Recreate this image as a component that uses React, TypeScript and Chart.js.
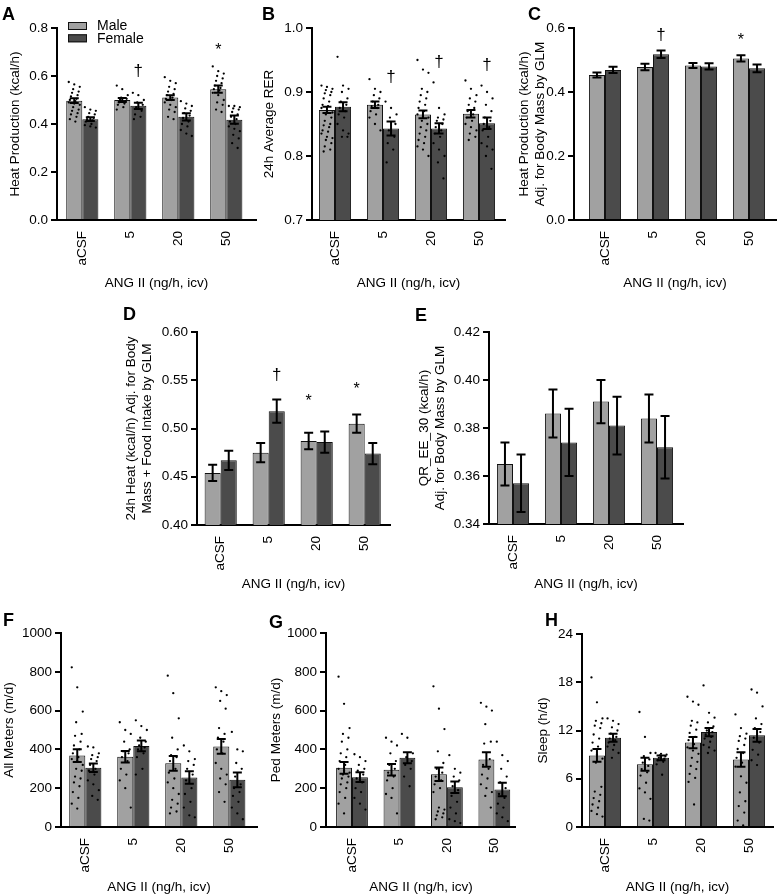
import React, { useEffect, useRef } from 'react';
import { Chart, registerables } from 'chart.js';

Chart.register(...registerables);

const FONT = '"Liberation Sans", Arial, Helvetica, sans-serif';
Chart.defaults.font.family = FONT;
Chart.defaults.color = '#000';

const categories = ['aCSF', '5', '20', '50'];
const seriesLabels = ['Male', 'Female'];
const xAxisTitle = 'ANG II (ng/h, icv)';
const MALE_COLOR = '#a1a1a1';
const FEMALE_COLOR = '#4b4b4b';
const TXT = 13.5;

// ---------- Panel A: Heat production ----------
const aMaleMean = [0.497, 0.5, 0.51, 0.545];
const aMaleSem = [0.01, 0.008, 0.01, 0.015];
const aFemaleMean = [0.42, 0.476, 0.43, 0.418];
const aFemaleSem = [0.008, 0.013, 0.015, 0.017];
const aMaleDots = [
  [0.575, 0.565, 0.555, 0.545, 0.535, 0.53, 0.52, 0.515, 0.505, 0.5, 0.495, 0.49, 0.485, 0.48, 0.47, 0.46, 0.455, 0.445, 0.44, 0.43, 0.42, 0.41],
  [0.56, 0.545, 0.52, 0.51, 0.505, 0.5, 0.495, 0.49, 0.485, 0.48, 0.47, 0.46],
  [0.595, 0.58, 0.57, 0.555, 0.545, 0.535, 0.525, 0.52, 0.51, 0.505, 0.5, 0.49, 0.48, 0.47, 0.46, 0.45, 0.43, 0.42],
  [0.64, 0.62, 0.61, 0.6, 0.59, 0.58, 0.57, 0.56, 0.55, 0.545, 0.54, 0.53, 0.52, 0.5, 0.49, 0.48, 0.46, 0.45],
];
const aFemaleDots = [
  [0.47, 0.46, 0.455, 0.445, 0.44, 0.43, 0.425, 0.42, 0.415, 0.41, 0.4, 0.395, 0.39, 0.385],
  [0.53, 0.52, 0.5, 0.49, 0.48, 0.47, 0.455, 0.44, 0.43, 0.42],
  [0.495, 0.485, 0.475, 0.465, 0.455, 0.445, 0.435, 0.425, 0.41, 0.4, 0.39, 0.375, 0.36, 0.35],
  [0.475, 0.475, 0.47, 0.465, 0.46, 0.45, 0.44, 0.43, 0.42, 0.41, 0.4, 0.39, 0.38, 0.37, 0.355, 0.34, 0.32, 0.3],
];

// ---------- Panel B: 24h average RER ----------
const bMaleMean = [0.872, 0.88, 0.865, 0.866];
const bMaleSem = [0.005, 0.005, 0.006, 0.006];
const bFemaleMean = [0.877, 0.843, 0.843, 0.851];
const bFemaleSem = [0.007, 0.011, 0.008, 0.009];
const bMaleDots = [
  [0.91, 0.908, 0.905, 0.903, 0.9, 0.898, 0.895, 0.89, 0.885, 0.88, 0.878, 0.875, 0.87, 0.868, 0.865, 0.86, 0.855, 0.85, 0.848, 0.845, 0.84, 0.838, 0.835, 0.83, 0.828, 0.825, 0.82, 0.815, 0.81, 0.807],
  [0.92, 0.905, 0.9, 0.895, 0.89, 0.885, 0.88, 0.878, 0.875, 0.87, 0.865, 0.86, 0.85, 0.84],
  [0.95, 0.935, 0.93, 0.905, 0.9, 0.895, 0.89, 0.885, 0.88, 0.875, 0.87, 0.865, 0.862, 0.86, 0.855, 0.85, 0.845, 0.84, 0.835, 0.83, 0.825, 0.82, 0.815, 0.81, 0.8],
  [0.918, 0.905, 0.895, 0.89, 0.885, 0.88, 0.875, 0.87, 0.865, 0.86, 0.855, 0.85, 0.845, 0.84, 0.835, 0.83, 0.825],
];
const bFemaleDots = [
  [0.955, 0.91, 0.905, 0.9, 0.89, 0.885, 0.88, 0.875, 0.87, 0.865, 0.86, 0.85, 0.84, 0.835, 0.83, 0.83],
  [0.885, 0.875, 0.865, 0.86, 0.85, 0.84, 0.83, 0.82, 0.81, 0.79],
  [0.915, 0.875, 0.865, 0.86, 0.857, 0.855, 0.85, 0.845, 0.84, 0.835, 0.83, 0.82, 0.81, 0.8, 0.79, 0.765],
  [0.91, 0.9, 0.89, 0.88, 0.87, 0.86, 0.855, 0.85, 0.845, 0.84, 0.83, 0.82, 0.815, 0.81, 0.8, 0.78],
];

// ---------- Panel C: Heat adj. for body mass ----------
const cMaleMean = [0.453, 0.478, 0.483, 0.505];
const cMaleSem = [0.008, 0.01, 0.008, 0.01];
const cFemaleMean = [0.469, 0.518, 0.48, 0.474];
const cFemaleSem = [0.01, 0.012, 0.01, 0.012];

// ---------- Panel D: 24h heat adj. for body mass + food intake ----------
const dMaleMean = [0.454, 0.475, 0.487, 0.505];
const dMaleSem = [0.0085, 0.01, 0.0085, 0.0095];
const dFemaleMean = [0.467, 0.518, 0.486, 0.474];
const dFemaleSem = [0.01, 0.012, 0.011, 0.011];

// ---------- Panel E: QR_EE_30 ----------
const eMaleMean = [0.365, 0.386, 0.391, 0.384];
const eMaleSem = [0.009, 0.01, 0.009, 0.01];
const eFemaleMean = [0.357, 0.374, 0.381, 0.372];
const eFemaleSem = [0.012, 0.014, 0.012, 0.013];

// ---------- Panel F: All meters ----------
const fMaleMean = [368, 362, 328, 415];
const fMaleSem = [33, 30, 38, 38];
const fFemaleMean = [305, 418, 255, 243];
const fFemaleSem = [22, 28, 32, 38];
const fMaleDots = [
  [823, 720, 595, 540, 480, 470, 440, 420, 400, 380, 360, 350, 340, 320, 300, 290, 260, 250, 230, 210, 180, 150, 120, 95],
  [540, 500, 480, 440, 400, 390, 380, 360, 340, 300, 270, 240, 200, 100],
  [780, 690, 560, 460, 400, 370, 360, 340, 300, 280, 250, 230, 200, 170, 140, 120, 100, 80, 70],
  [720, 700, 680, 650, 610, 510, 480, 460, 440, 400, 380, 330, 300, 270, 250, 220, 180, 130],
];
const fFemaleDots = [
  [415, 410, 380, 370, 360, 350, 340, 320, 300, 290, 270, 240, 220, 190, 160, 140],
  [550, 520, 500, 460, 440, 420, 410, 400, 380, 360, 300, 270],
  [420, 390, 350, 340, 320, 300, 270, 240, 200, 170, 130, 100, 60, 50],
  [490, 400, 390, 330, 300, 260, 220, 200, 180, 160, 130, 100, 70, 40],
];

// ---------- Panel G: Ped meters ----------
const gMaleMean = [305, 295, 272, 348];
const gMaleSem = [30, 30, 35, 37];
const gFemaleMean = [257, 357, 205, 193];
const gFemaleSem = [25, 28, 30, 35];
const gMaleDots = [
  [775, 635, 510, 480, 460, 440, 400, 380, 360, 340, 320, 300, 290, 280, 270, 260, 250, 230, 220, 200, 180, 150, 120, 70],
  [460, 440, 420, 380, 340, 320, 300, 280, 260, 240, 200, 170, 150, 70],
  [725, 610, 505, 390, 330, 300, 280, 260, 240, 220, 200, 180, 100, 90, 80, 70, 60, 50, 40],
  [640, 620, 600, 530, 440, 430, 350, 320, 300, 270, 250, 220, 200, 180, 160, 100],
];
const gFemaleDots = [
  [375, 360, 340, 320, 300, 290, 270, 250, 230, 200, 180, 150, 120, 90],
  [480, 460, 380, 360, 340, 320, 300, 260, 210],
  [370, 300, 280, 260, 240, 210, 190, 160, 130, 100, 70, 40, 30, 20],
  [440, 370, 340, 300, 260, 230, 200, 170, 150, 120, 100, 70, 50, 30],
];

// ---------- Panel H: Sleep ----------
const hMaleMean = [8.9, 7.8, 10.5, 8.4];
const hMaleSem = [0.8, 0.8, 0.7, 0.9];
const hFemaleMean = [11.1, 8.6, 11.8, 11.4];
const hFemaleSem = [0.5, 0.3, 0.5, 0.8];
const hMaleDots = [
  [18.6, 15.5, 13.5, 13.2, 12.9, 12.6, 12.3, 11.5, 11, 10.5, 10, 9.5, 9, 8.5, 8, 5, 4.4, 4, 3.6, 3.2, 2.8, 2.4, 2, 1.6, 1.3],
  [14.3, 11.2, 9.2, 8.8, 8.4, 8, 7.6, 7.2, 6.8, 6.4, 5.5, 4.8, 4.3, 3.5, 1, 0.8],
  [16.2, 15.6, 15.2, 13.2, 13, 12.6, 12.1, 11.7, 11.2, 10.8, 10.3, 9.9, 9.5, 9.1, 8.6, 8.1, 7.6, 7.2, 6.6, 6.1, 5.6, 2.8],
  [14, 12.3, 11.6, 11.3, 11, 10.7, 10.2, 9.7, 9.2, 8.6, 8, 7.5, 6.3, 5.5, 4.3, 3.2, 2.6, 1.8, 0.8, 0.2],
];
const hFemaleDots = [
  [13.5, 13.2, 12.8, 12.4, 12, 11.6, 11.2, 11, 10.8, 10.5, 10.2, 10, 9.6, 9.2, 8.6],
  [9.2, 9.1, 9, 8.9, 8.8, 8.6, 8.5, 8.3, 8.1, 7.8, 6.5],
  [17.6, 14.2, 13.6, 13, 12.5, 12, 11.8, 11.5, 11.2, 11, 10.6, 10.2, 9.9, 9.5, 9.2],
  [17.1, 16.7, 15, 13.5, 12.8, 12.3, 11.8, 11.1, 10.5, 9.6, 9, 8.3, 7.7],
];

// significance marks: [category index, series index (0 male, 1 female), y value, symbol]
const aMarks: [number, number, number, string][] = [[1, 1, 0.62, '†'], [3, 0, 0.72, '*']];
const bMarks: [number, number, number, string][] = [[1, 1, 0.923, '†'], [2, 1, 0.947, '†'], [3, 1, 0.942, '†']];
const cMarks: [number, number, number, string][] = [[1, 1, 0.578, '†'], [3, 0, 0.57, '*']];
const dMarks: [number, number, number, string][] = [[1, 1, 0.555, '†'], [2, 0, 0.531, '*'], [3, 0, 0.543, '*']];

type Series = { mean: number[]; sem: number[]; dots?: number[][] };
type Panel = {
  letter: string;
  letterPos: [number, number];
  canvas: [number, number, number, number];
  axisX: number;
  firstCenter: number;
  plotRight: number;
  plotTop: number;
  plotBottom: number;
  yTitleX: number;
  xTitleY: number;
  yMin: number;
  yMax: number;
  yStep: number;
  dec: number;
  yTitle: string | string[];
  male: Series;
  female: Series;
  marks: [number, number, number, string][];
  legend?: [number, number];
};

const panels: Panel[] = [
  {
    letter: 'A', letterPos: [2, 7], canvas: [0, 0, 262, 296], axisX: 57, firstCenter: 82.3, plotRight: 256,
    plotTop: 28, plotBottom: 220, yTitleX: 15.5, xTitleY: 283, yMin: 0, yMax: 0.8, yStep: 0.2, dec: 1,
    yTitle: 'Heat Production (kcal/h)',
    male: { mean: aMaleMean, sem: aMaleSem, dots: aMaleDots },
    female: { mean: aFemaleMean, sem: aFemaleSem, dots: aFemaleDots },
    marks: aMarks, legend: [68, 22],
  },
  {
    letter: 'B', letterPos: [262, 7], canvas: [256, 0, 256, 296], axisX: 312, firstCenter: 335, plotRight: 505,
    plotTop: 28, plotBottom: 220, yTitleX: 269, xTitleY: 283, yMin: 0.7, yMax: 1.0, yStep: 0.1, dec: 1,
    yTitle: '24h Average RER',
    male: { mean: bMaleMean, sem: bMaleSem, dots: bMaleDots },
    female: { mean: bFemaleMean, sem: bFemaleSem, dots: bFemaleDots },
    marks: bMarks,
  },
  {
    letter: 'C', letterPos: [528, 7], canvas: [514, 0, 263, 296], axisX: 574, firstCenter: 605, plotRight: 776,
    plotTop: 28, plotBottom: 220, yTitleX: 524, xTitleY: 283, yMin: 0, yMax: 0.6, yStep: 0.2, dec: 1,
    yTitle: ['Heat Production (kcal/h)', 'Adj. for Body Mass by GLM'],
    male: { mean: cMaleMean, sem: cMaleSem },
    female: { mean: cFemaleMean, sem: cFemaleSem },
    marks: cMarks,
  },
  {
    letter: 'D', letterPos: [123, 307], canvas: [115, 300, 285, 296], axisX: 197, firstCenter: 220.7, plotRight: 390,
    plotTop: 332, plotBottom: 525, yTitleX: 131, xTitleY: 584, yMin: 0.4, yMax: 0.6, yStep: 0.05, dec: 2,
    yTitle: ['24h Heat (kcal/h) Adj. for Body', 'Mass + Food Intake by GLM'],
    male: { mean: dMaleMean, sem: dMaleSem },
    female: { mean: dFemaleMean, sem: dFemaleSem },
    marks: dMarks,
  },
  {
    letter: 'E', letterPos: [415, 308], canvas: [408, 300, 285, 296], axisX: 489, firstCenter: 513, plotRight: 683,
    plotTop: 332, plotBottom: 524, yTitleX: 424, xTitleY: 584, yMin: 0.34, yMax: 0.42, yStep: 0.02, dec: 2,
    yTitle: ['QR_EE_30 (kcal/h)', 'Adj. for Body Mass by GLM'],
    male: { mean: eMaleMean, sem: eMaleSem },
    female: { mean: eFemaleMean, sem: eFemaleSem },
    marks: [],
  },
  {
    letter: 'F', letterPos: [3, 613], canvas: [0, 600, 262, 296], axisX: 61, firstCenter: 85.3, plotRight: 257,
    plotTop: 633, plotBottom: 827, yTitleX: 9.5, xTitleY: 887, yMin: 0, yMax: 1000, yStep: 200, dec: 0,
    yTitle: 'All Meters (m/d)',
    male: { mean: fMaleMean, sem: fMaleSem, dots: fMaleDots },
    female: { mean: fFemaleMean, sem: fFemaleSem, dots: fFemaleDots },
    marks: [],
  },
  {
    letter: 'G', letterPos: [269, 615], canvas: [262, 600, 260, 296], axisX: 326, firstCenter: 352.3, plotRight: 518,
    plotTop: 633, plotBottom: 827, yTitleX: 276, xTitleY: 887, yMin: 0, yMax: 1000, yStep: 200, dec: 0,
    yTitle: 'Ped Meters (m/d)',
    male: { mean: gMaleMean, sem: gMaleSem, dots: gMaleDots },
    female: { mean: gFemaleMean, sem: gFemaleSem, dots: gFemaleDots },
    marks: [],
  },
  {
    letter: 'H', letterPos: [545, 613], canvas: [530, 600, 247, 296], axisX: 582, firstCenter: 605, plotRight: 773,
    plotTop: 634, plotBottom: 827, yTitleX: 543, xTitleY: 887, yMin: 0, yMax: 24, yStep: 6, dec: 0,
    yTitle: 'Sleep (h/d)',
    male: { mean: hMaleMean, sem: hMaleSem, dots: hMaleDots },
    female: { mean: hFemaleMean, sem: hFemaleSem, dots: hFemaleDots },
    marks: [],
  },
];

const jitter = (k: number) => (((k * 5) % 11) - 5) * 1.1;

function overlayPlugin(p: Panel) {
  return {
    id: 'overlay' + p.letter,
    afterDatasetsDraw(chart: any) {
      const ctx = chart.ctx as CanvasRenderingContext2D;
      const yScale = chart.scales.y;
      const series = [p.male, p.female];
      ctx.save();
      // dots
      ctx.fillStyle = '#000';
      series.forEach((s, di) => {
        if (!s.dots) return;
        const meta = chart.getDatasetMeta(di);
        s.dots.forEach((vals, ci) => {
          const bx = meta.data[ci].x;
          vals.forEach((v, k) => {
            const y = yScale.getPixelForValue(v);
            ctx.beginPath();
            ctx.arc(bx + jitter(k), y, 1.15, 0, Math.PI * 2);
            ctx.fill();
          });
        });
      });
      // error bars
      ctx.strokeStyle = '#000';
      ctx.lineWidth = 2;
      series.forEach((s, di) => {
        const meta = chart.getDatasetMeta(di);
        s.mean.forEach((m, ci) => {
          const bx = meta.data[ci].x;
          const yTop = yScale.getPixelForValue(m + s.sem[ci]);
          const yBot = yScale.getPixelForValue(m - s.sem[ci]);
          ctx.beginPath();
          ctx.moveTo(bx, yTop);
          ctx.lineTo(bx, yBot);
          ctx.moveTo(bx - 4.5, yTop);
          ctx.lineTo(bx + 4.5, yTop);
          ctx.moveTo(bx - 4.5, yBot);
          ctx.lineTo(bx + 4.5, yBot);
          ctx.stroke();
        });
      });
      // significance marks
      ctx.fillStyle = '#000';
      ctx.textAlign = 'center';
      ctx.textBaseline = 'middle';
      p.marks.forEach(([ci, di, v, sym]) => {
        const bx = chart.getDatasetMeta(di).data[ci].x;
        const y = yScale.getPixelForValue(v);
        ctx.font = sym === '*' ? `16px ${FONT}` : `17px ${FONT}`;
        ctx.fillText(sym, bx, sym === '*' ? y + 3 : y);
      });
      // legend
      if (p.legend) {
        const lx = p.legend[0] - p.canvas[0];
        const ly = p.legend[1] - p.canvas[1];
        const colors = [MALE_COLOR, FEMALE_COLOR];
        ctx.font = `14px ${FONT}`;
        ctx.textAlign = 'left';
        ctx.textBaseline = 'middle';
        seriesLabels.forEach((lab, i) => {
          const y = ly + i * 12.3;
          ctx.fillStyle = colors[i];
          ctx.fillRect(lx, y, 19, 8);
          ctx.strokeStyle = '#111';
          ctx.lineWidth = 1;
          ctx.strokeRect(lx + 0.5, y + 0.5, 18, 7);
          ctx.fillStyle = '#000';
          ctx.fillText(lab, lx + 29, y + 4.5);
        });
      }
      ctx.restore();
    },
  };
}

function buildConfig(p: Panel): any {
  const [cl, ct, cw, ch] = p.canvas;
  const unit = 48;
  const xMin = -(p.firstCenter - p.axisX) / unit;
  const xMax = xMin + (p.plotRight - p.axisX) / unit;
  const yLh = 16.5;
  const xLh = TXT * 1.2;
  return {
    type: 'bar',
    data: {
      datasets: [
        {
          label: seriesLabels[0],
          data: p.male.mean.map((m, i) => ({ x: i, y: m })),
          backgroundColor: MALE_COLOR,
          borderColor: '#111',
          borderWidth: 1,
          categoryPercentage: 0.67,
          barPercentage: 1,
        },
        {
          label: seriesLabels[1],
          data: p.female.mean.map((m, i) => ({ x: i, y: m })),
          backgroundColor: FEMALE_COLOR,
          borderColor: '#111',
          borderWidth: 1,
          categoryPercentage: 0.67,
          barPercentage: 1,
        },
      ],
    },
    options: {
      responsive: false,
      animation: false,
      devicePixelRatio: 1,
      layout: { padding: { left: 0, top: p.plotTop - ct, right: cl + cw - p.plotRight, bottom: 0 } },
      plugins: { legend: { display: false }, tooltip: { enabled: false } },
      scales: {
        x: {
          type: 'linear',
          min: xMin,
          max: xMax,
          offset: false,
          grid: { display: false, drawTicks: false },
          border: { display: true, color: '#000', width: 2 },
          afterBuildTicks: (s: any) => {
            s.ticks = categories.map((_, i) => ({ value: i }));
          },
          ticks: {
            autoSkip: false,
            minRotation: 90,
            maxRotation: 90,
            padding: 11,
            font: { size: TXT },
            color: '#000',
            callback: (v: any) => categories[Math.round(Number(v))] ?? '',
          },
          title: {
            display: true,
            text: xAxisTitle,
            font: { size: TXT },
            color: '#000',
            padding: { top: 0, bottom: ct + ch - p.xTitleY - xLh / 2 },
          },
          afterFit: (s: any) => {
            s.height = ct + ch - p.plotBottom;
          },
        },
        y: {
          min: p.yMin,
          max: p.yMax,
          ticks: {
            stepSize: p.yStep,
            font: { size: TXT },
            color: '#000',
            padding: 3,
            callback: (v: any) => Number(v).toFixed(p.dec),
          },
          grid: { display: true, drawOnChartArea: false, drawTicks: true, tickLength: 6, color: '#000', lineWidth: 2 },
          border: { display: true, color: '#000', width: 2 },
          title: {
            display: true,
            text: p.yTitle,
            font: { size: TXT, lineHeight: yLh / TXT },
            color: '#000',
            padding: { top: p.yTitleX - cl - yLh / 2, bottom: 0 },
          },
          afterFit: (s: any) => {
            s.width = p.axisX - cl;
          },
        },
      },
    },
    plugins: [overlayPlugin(p)],
  };
}

function PanelChart({ p }: { p: Panel }) {
  const ref = useRef<HTMLCanvasElement | null>(null);
  useEffect(() => {
    if (!ref.current) return;
    const chart = new Chart(ref.current, buildConfig(p));
    return () => chart.destroy();
  }, [p]);
  const [cl, ct, cw, ch] = p.canvas;
  return (
    <canvas
      ref={ref}
      width={cw}
      height={ch}
      style={{ position: 'absolute', left: cl, top: ct, width: cw, height: ch }}
    />
  );
}

export default function App() {
  return (
    <div style={{ position: 'absolute', left: 0, top: 0, width: 777, height: 896, background: '#fff', overflow: 'hidden' }}>
      {panels.map((p) => (
        <PanelChart key={p.letter} p={p} />
      ))}
      {panels.map((p) => (
        <div
          key={'L' + p.letter}
          style={{
            position: 'absolute',
            left: p.letterPos[0],
            top: p.letterPos[1] - 2.3,
            font: `bold 18px/18px ${FONT}`,
            color: '#000',
          }}
        >
          {p.letter}
        </div>
      ))}
    </div>
  );
}
